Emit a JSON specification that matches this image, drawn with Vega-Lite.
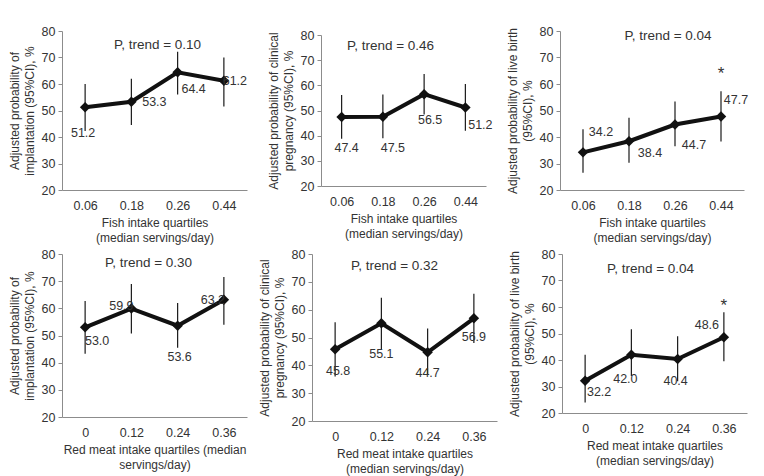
{
  "$schema": "https://vega.github.io/schema/vega-lite/v6.json",
  "padding": {"left": 8, "top": 25, "right": 5, "bottom": 1},
  "background": "white",
  "data": {"values": [
    {"panel": "P1", "k": 0, "q": "0.06", "est": 51.2, "lo": 42.3, "hi": 60.0, "star": 0},
    {"panel": "P1", "k": 1, "q": "0.18", "est": 53.3, "lo": 44.5, "hi": 62.0, "star": 0},
    {"panel": "P1", "k": 2, "q": "0.26", "est": 64.4, "lo": 56.0, "hi": 72.2, "star": 0},
    {"panel": "P1", "k": 3, "q": "0.44", "est": 61.2, "lo": 51.5, "hi": 70.0, "star": 0},
    {"panel": "P2", "k": 0, "q": "0.06", "est": 47.4, "lo": 38.8, "hi": 56.2, "star": 0},
    {"panel": "P2", "k": 1, "q": "0.18", "est": 47.5, "lo": 39.0, "hi": 56.4, "star": 0},
    {"panel": "P2", "k": 2, "q": "0.26", "est": 56.5, "lo": 48.4, "hi": 64.5, "star": 0},
    {"panel": "P2", "k": 3, "q": "0.44", "est": 51.2, "lo": 42.0, "hi": 60.5, "star": 0},
    {"panel": "P3", "k": 0, "q": "0.06", "est": 34.2, "lo": 26.5, "hi": 42.9, "star": 0},
    {"panel": "P3", "k": 1, "q": "0.18", "est": 38.4, "lo": 30.3, "hi": 47.3, "star": 0},
    {"panel": "P3", "k": 2, "q": "0.26", "est": 44.7, "lo": 36.5, "hi": 53.4, "star": 0},
    {"panel": "P3", "k": 3, "q": "0.44", "est": 47.7, "lo": 38.3, "hi": 57.3, "star": 1},
    {"panel": "P4", "k": 0, "q": "0", "est": 53.0, "lo": 43.3, "hi": 62.7, "star": 0},
    {"panel": "P4", "k": 1, "q": "0.12", "est": 59.9, "lo": 50.7, "hi": 69.0, "star": 0},
    {"panel": "P4", "k": 2, "q": "0.24", "est": 53.6, "lo": 45.5, "hi": 62.0, "star": 0},
    {"panel": "P4", "k": 3, "q": "0.36", "est": 63.2, "lo": 54.0, "hi": 71.5, "star": 0},
    {"panel": "P5", "k": 0, "q": "0", "est": 45.8, "lo": 36.0, "hi": 55.5, "star": 0},
    {"panel": "P5", "k": 1, "q": "0.12", "est": 55.1, "lo": 45.9, "hi": 64.3, "star": 0},
    {"panel": "P5", "k": 2, "q": "0.24", "est": 44.7, "lo": 36.8, "hi": 53.2, "star": 0},
    {"panel": "P5", "k": 3, "q": "0.36", "est": 56.9, "lo": 48.0, "hi": 65.7, "star": 0},
    {"panel": "P6", "k": 0, "q": "0", "est": 32.2, "lo": 24.0, "hi": 42.0, "star": 0},
    {"panel": "P6", "k": 1, "q": "0.12", "est": 42.0, "lo": 34.0, "hi": 51.6, "star": 0},
    {"panel": "P6", "k": 2, "q": "0.24", "est": 40.4, "lo": 32.0, "hi": 49.0, "star": 0},
    {"panel": "P6", "k": 3, "q": "0.36", "est": 48.6, "lo": 39.5, "hi": 58.0, "star": 1}
  ]},
  "spacing": 4,
  "vconcat": [
    {
      "bounds": "flush",
      "center": true,
      "spacing": 74,
      "hconcat": [
        {
          "width": 185, "height": 159,
          "title": {"text": "P, trend = 0.10", "dx": 3, "dy": 12},
          "transform": [{"filter": "datum.panel == 'P1'"}],
          "encoding": {
            "x": {"field": "q", "type": "ordinal", "scale": {"type": "point", "padding": 0.5}, "axis": {"title": ["Fish intake quartiles", "(median servings/day)"]}},
            "y": {"field": "est", "type": "quantitative", "scale": {"domain": [20, 80]}, "axis": {"title": ["Adjusted probability of", "implantation (95%CI), %"], "values": [20, 30, 40, 50, 60, 70, 80]}}
          },
          "layer": [
            {"mark": {"type": "rule", "color": "#1a1a1a", "strokeWidth": 1.2}, "encoding": {"y": {"field": "lo", "type": "quantitative"}, "y2": {"field": "hi"}}},
            {"mark": {"type": "line", "color": "#111", "strokeWidth": 4}, "encoding": {}},
            {"mark": {"type": "point", "shape": "diamond", "filled": true, "size": 110, "color": "#111", "opacity": 1}},
            {"mark": {"type": "text", "dx": {"expr": "[-2, 23, 16, 11][datum.k]"}, "dy": {"expr": "[26, 0, 17, 0][datum.k]"}}, "encoding": {"text": {"field": "est", "format": ".1f"}}}
          ]
        },
        {
          "width": 165, "height": 151,
          "title": {"text": "P, trend = 0.46", "dx": -13, "dy": 9},
          "transform": [{"filter": "datum.panel == 'P2'"}],
          "encoding": {
            "x": {"field": "q", "type": "ordinal", "scale": {"type": "point", "padding": 0.5}, "axis": {"title": ["Fish intake quartiles", "(median servings/day)"]}},
            "y": {"field": "est", "type": "quantitative", "scale": {"domain": [20, 80]}, "axis": {"title": ["Adjusted probability of clinical", "pregnancy (95%CI), %"], "values": [20, 30, 40, 50, 60, 70, 80]}}
          },
          "layer": [
            {"mark": {"type": "rule", "color": "#1a1a1a", "strokeWidth": 1.2}, "encoding": {"y": {"field": "lo", "type": "quantitative"}, "y2": {"field": "hi"}}},
            {"mark": {"type": "line", "color": "#111", "strokeWidth": 4}, "encoding": {}},
            {"mark": {"type": "point", "shape": "diamond", "filled": true, "size": 110, "color": "#111", "opacity": 1}},
            {"mark": {"type": "text", "dx": {"expr": "[5, 10, 6, 15][datum.k]"}, "dy": {"expr": "[31, 31, 26, 18][datum.k]"}}, "encoding": {"text": {"field": "est", "format": ".1f"}}}
          ]
        },
        {
          "width": 184, "height": 159,
          "title": {"text": "P, trend = 0.04", "dx": 16, "dy": 3},
          "transform": [{"filter": "datum.panel == 'P3'"}],
          "encoding": {
            "x": {"field": "q", "type": "ordinal", "scale": {"type": "point", "padding": 0.5}, "axis": {"title": ["Fish intake quartiles", "(median servings/day)"]}},
            "y": {"field": "est", "type": "quantitative", "scale": {"domain": [20, 80]}, "axis": {"title": ["Adjusted probability of live birth", "(95%CI), %"], "values": [20, 30, 40, 50, 60, 70, 80]}}
          },
          "layer": [
            {"mark": {"type": "rule", "color": "#1a1a1a", "strokeWidth": 1.2}, "encoding": {"y": {"field": "lo", "type": "quantitative"}, "y2": {"field": "hi"}}},
            {"mark": {"type": "line", "color": "#111", "strokeWidth": 4}, "encoding": {}},
            {"mark": {"type": "point", "shape": "diamond", "filled": true, "size": 110, "color": "#111", "opacity": 1}},
            {"mark": {"type": "text", "dx": {"expr": "[18, 21, 19, 15][datum.k]"}, "dy": {"expr": "[-20, 12, 20, -17][datum.k]"}}, "encoding": {"text": {"field": "est", "format": ".1f"}}},
            {"transform": [{"filter": "datum.star == 1"}], "mark": {"type": "text", "text": "*", "fontSize": 17, "dy": -17}, "encoding": {"y": {"field": "hi", "type": "quantitative"}}}
          ]
        }
      ]
    },
    {
      "bounds": "flush",
      "spacing": 65,
      "hconcat": [
        {
          "width": 185, "height": 163,
          "title": {"text": "P, trend = 0.30", "dx": -6, "dy": 7},
          "transform": [{"filter": "datum.panel == 'P4'"}],
          "encoding": {
            "x": {"field": "q", "type": "ordinal", "scale": {"type": "point", "padding": 0.5}, "axis": {"title": ["Red meat intake quartiles (median", "servings/day)"]}},
            "y": {"field": "est", "type": "quantitative", "scale": {"domain": [20, 80]}, "axis": {"title": ["Adjusted probability of", "implantation (95%CI), %"], "values": [20, 30, 40, 50, 60, 70, 80]}}
          },
          "layer": [
            {"mark": {"type": "rule", "color": "#1a1a1a", "strokeWidth": 1.2}, "encoding": {"y": {"field": "lo", "type": "quantitative"}, "y2": {"field": "hi"}}},
            {"mark": {"type": "line", "color": "#111", "strokeWidth": 4}, "encoding": {}},
            {"mark": {"type": "point", "shape": "diamond", "filled": true, "size": 110, "color": "#111", "opacity": 1}},
            {"mark": {"type": "text", "dx": {"expr": "[12, -10, 2, -11][datum.k]"}, "dy": {"expr": "[14, -3, 31, 0][datum.k]"}}, "encoding": {"text": {"field": "est", "format": ".1f"}}}
          ]
        },
        {
          "width": 185, "height": 167,
          "title": {"text": "P, trend = 0.32", "dx": -10, "dy": 10},
          "transform": [{"filter": "datum.panel == 'P5'"}],
          "encoding": {
            "x": {"field": "q", "type": "ordinal", "scale": {"type": "point", "padding": 0.5}, "axis": {"title": ["Red meat intake quartiles", "(median servings/day)"]}},
            "y": {"field": "est", "type": "quantitative", "scale": {"domain": [20, 80]}, "axis": {"title": ["Adjusted probability of clinical", "pregnancy (95%CI), %"], "values": [20, 30, 40, 50, 60, 70, 80]}}
          },
          "layer": [
            {"mark": {"type": "rule", "color": "#1a1a1a", "strokeWidth": 1.2}, "encoding": {"y": {"field": "lo", "type": "quantitative"}, "y2": {"field": "hi"}}},
            {"mark": {"type": "line", "color": "#111", "strokeWidth": 4}, "encoding": {}},
            {"mark": {"type": "point", "shape": "diamond", "filled": true, "size": 110, "color": "#111", "opacity": 1}},
            {"mark": {"type": "text", "dx": {"expr": "[3, 0, 0, 0][datum.k]"}, "dy": {"expr": "[22, 31, 21, 19][datum.k]"}}, "encoding": {"text": {"field": "est", "format": ".1f"}}}
          ]
        },
        {
          "width": 185, "height": 159,
          "title": {"text": "P, trend = 0.04", "dx": -4, "dy": 13},
          "transform": [{"filter": "datum.panel == 'P6'"}],
          "encoding": {
            "x": {"field": "q", "type": "ordinal", "scale": {"type": "point", "padding": 0.5}, "axis": {"title": ["Red meat intake quartiles", "(median servings/day)"]}},
            "y": {"field": "est", "type": "quantitative", "scale": {"domain": [20, 80]}, "axis": {"title": ["Adjusted probability of live birth", "(95%CI), %"], "values": [20, 30, 40, 50, 60, 70, 80]}}
          },
          "layer": [
            {"mark": {"type": "rule", "color": "#1a1a1a", "strokeWidth": 1.2}, "encoding": {"y": {"field": "lo", "type": "quantitative"}, "y2": {"field": "hi"}}},
            {"mark": {"type": "line", "color": "#111", "strokeWidth": 4}, "encoding": {}},
            {"mark": {"type": "point", "shape": "diamond", "filled": true, "size": 110, "color": "#111", "opacity": 1}},
            {"mark": {"type": "text", "dx": {"expr": "[14, -6, -2, -17][datum.k]"}, "dy": {"expr": "[11, 24, 22, -12][datum.k]"}}, "encoding": {"text": {"field": "est", "format": ".1f"}}},
            {"transform": [{"filter": "datum.star == 1"}], "mark": {"type": "text", "text": "*", "fontSize": 17, "dy": -6}, "encoding": {"y": {"field": "hi", "type": "quantitative"}}}
          ]
        }
      ]
    }
  ],
  "config": {
    "font": "Liberation Sans",
    "view": {"stroke": null},
    "axis": {"domainColor": "#8c8c8c", "tickColor": "#8c8c8c", "labelColor": "#333", "titleColor": "#333", "labelFontSize": 12.5, "titleFontSize": 12, "titleFontWeight": "normal", "grid": false, "titleLineHeight": 15},
    "axisX": {"ticks": false, "labelAngle": 0, "labelPadding": 9, "titlePadding": 6},
    "axisY": {"tickSize": 4, "labelPadding": 3, "titlePadding": 5},
    "title": {"fontSize": 13.5, "fontWeight": "normal", "color": "#333", "offset": -14, "baseline": "middle"},
    "text": {"fontSize": 12.5, "color": "#333", "baseline": "middle"}
  }
}
